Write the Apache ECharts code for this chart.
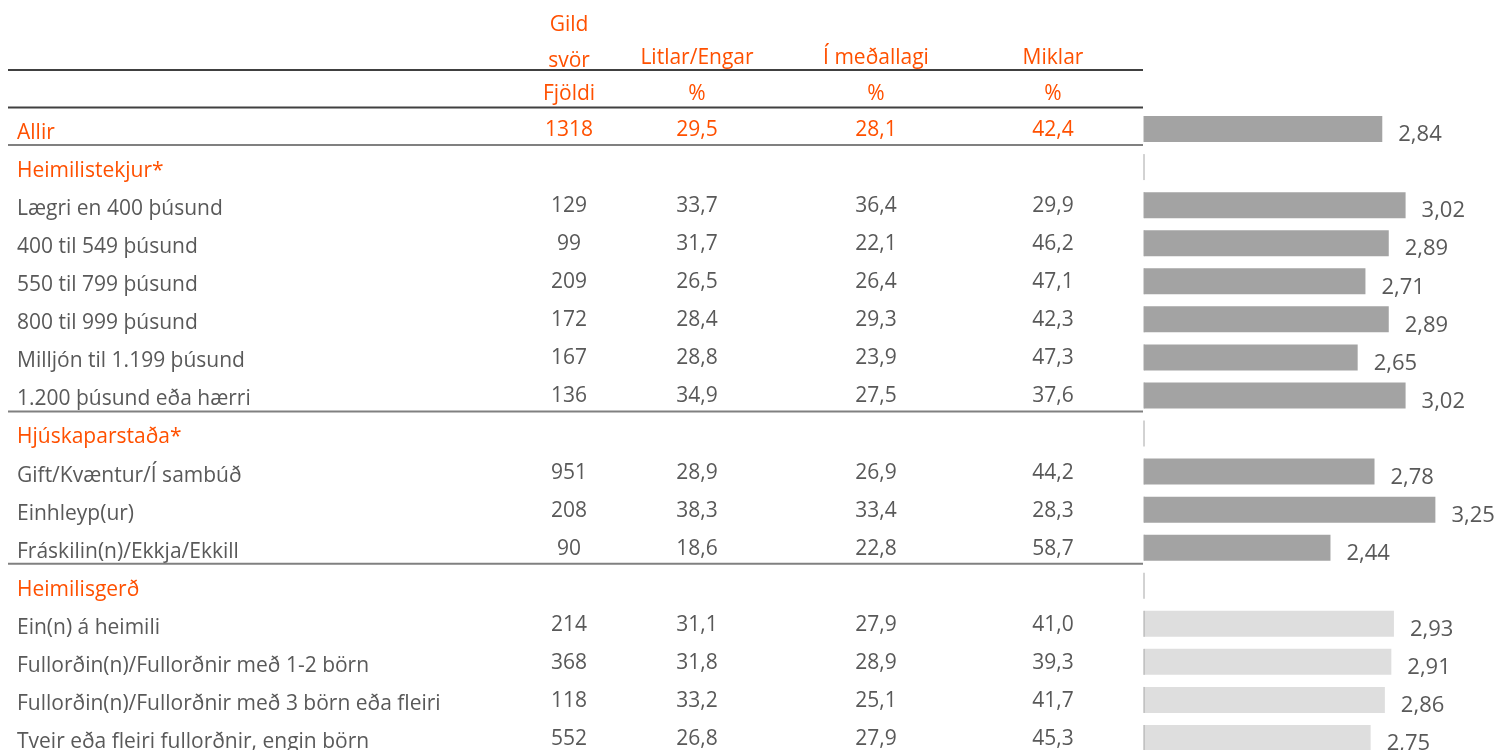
<!DOCTYPE html>
<html>
<head>
<meta charset="utf-8">
<script src="https://cdn.jsdelivr.net/npm/echarts@6/dist/echarts.min.js"></script>
<style>
  html, body { margin: 0; padding: 0; background: #fff; }
  #main { width: 1500px; height: 750px; }
</style>
</head>
<body>
<div id="main"></div>
<script>
// rows of the table (top to bottom)
var rowNames = ['Allir', 'Heimilistekjur*', 'Lægri en 400 þúsund', '400 til 549 þúsund', '550 til 799 þúsund',
    '800 til 999 þúsund', 'Milljón til 1.199 þúsund', '1.200 þúsund eða hærri', 'Hjúskaparstaða*',
    'Gift/Kvæntur/Í sambúð', 'Einhleyp(ur)', 'Fráskilin(n)/Ekkja/Ekkill', 'Heimilisgerð', 'Ein(n) á heimili',
    'Fullorðin(n)/Fullorðnir með 1-2 börn', 'Fullorðin(n)/Fullorðnir með 3 börn eða fleiri',
    'Tveir eða fleiri fullorðnir, engin börn'];
var fjoldi  = [1318, null, 129, 99, 209, 172, 167, 136, null, 951, 208, 90, null, 214, 368, 118, 552];
var litlar  = [29.5, null, 33.7, 31.7, 26.5, 28.4, 28.8, 34.9, null, 28.9, 38.3, 18.6, null, 31.1, 31.8, 33.2, 26.8];
var medal   = [28.1, null, 36.4, 22.1, 26.4, 29.3, 23.9, 27.5, null, 26.9, 33.4, 22.8, null, 27.9, 28.9, 25.1, 27.9];
var miklar  = [42.4, null, 29.9, 46.2, 47.1, 42.3, 47.3, 37.6, null, 44.2, 28.3, 58.7, null, 41.0, 39.3, 41.7, 45.3];
var medaltal = [2.84, null, 3.02, 2.89, 2.71, 2.89, 2.65, 3.02, null, 2.78, 3.25, 2.44, null, 2.93, 2.91, 2.86, 2.75];
// which block each row belongs to
var hopur = ['allir', 'h', 'tekjur', 'tekjur', 'tekjur', 'tekjur', 'tekjur', 'tekjur', 'h',
    'hjusk', 'hjusk', 'hjusk', 'h', 'gerd', 'gerd', 'gerd', 'gerd'];
var dalkar = [fjoldi, litlar, medal, miklar];

var ORANGE = '#FF5000';
var GREY = '#595959';
var FONT = 'Open Sans';

var rowTop = 110, rowH = 38.06;
var axisX = 1144;
var colX = [569, 697, 876, 1053];

function fmt(v, d) {
    if (v == null) return '';
    return v.toFixed(d).replace('.', ',');
}
function isOrange(i) { return hopur[i] === 'allir' || hopur[i] === 'h'; }

var dom = document.getElementById('main');
var myChart = echarts.init(dom);

function hline(y, color) {
    return { type: 'line', shape: { x1: 8, y1: y, x2: axisX - 1, y2: y }, style: { stroke: color, lineWidth: 2 }, z: 10 };
}
function htext(x, y, t) {
    return { type: 'text', x: x, y: y, style: { text: t, fill: ORANGE, font: '21px "' + FONT + '"', align: 'center', verticalAlign: 'middle' } };
}

var tableSeries = dalkar.map(function (col, c) {
    return {
        type: 'scatter', xAxisIndex: 1, yAxisIndex: 1, symbolSize: 0, silent: true,
        itemStyle: { opacity: 1 },
        data: col.map(function (v, i) { return [colX[c], i]; }),
        label: {
            show: true, position: 'inside', fontFamily: FONT, fontSize: 21, offset: [0, 1],
            formatter: function (p) {
                var i = p.dataIndex, v = col[i];
                var s = c === 0 ? (v == null ? '' : String(v)) : fmt(v, 1);
                return isOrange(i) ? '{o|' + s + '}' : '{g|' + s + '}';
            },
            rich: { o: { color: ORANGE, fontFamily: FONT, fontSize: 21 }, g: { color: GREY, fontFamily: FONT, fontSize: 21 } }
        }
    };
});

var option = {
    animation: false,
    grid: [
        { left: axisX, top: rowTop, width: 388.5, height: rowH * rowNames.length, outerBoundsMode: 'none' },
        { left: 0, top: rowTop, width: axisX, height: rowH * rowNames.length, outerBoundsMode: 'none' }
    ],
    xAxis: [
        { type: 'value', min: 1, max: 4, show: false, gridIndex: 0 },
        { type: 'value', min: 0, max: axisX, show: false, gridIndex: 1 }
    ],
    yAxis: [{
        type: 'category', inverse: true, data: rowNames, gridIndex: 0,
        axisLine: { show: false }, axisTick: { show: false },
        axisLabel: {
            interval: 0, align: 'left', margin: axisX - 17, fontFamily: FONT, fontSize: 21,
            formatter: function (v, i) { return isOrange(i) ? '{o|' + v + '}' : '{g|' + v + '}'; },
            rich: { o: { color: ORANGE, fontFamily: FONT, fontSize: 21, padding: [8, 0, 0, 0] },
                    g: { color: GREY, fontFamily: FONT, fontSize: 21, padding: [8, 0, 0, 0] } }
        }
    }, {
        type: 'category', inverse: true, data: rowNames, gridIndex: 1, show: false
    }],
    graphic: [
        htext(colX[0], 25, 'Gild'),
        htext(colX[0], 61, 'svör'),
        htext(colX[1], 58, 'Litlar/Engar'),
        htext(colX[2], 58, 'Í meðallagi'),
        htext(colX[3], 58, 'Miklar'),
        htext(colX[0], 94, 'Fjöldi'),
        htext(colX[1], 94, '%'),
        htext(colX[2], 94, '%'),
        htext(colX[3], 94, '%'),
        hline(70, '#404040'),
        hline(107.5, '#404040'),
        hline(rowTop + rowH * 1 - 3, '#808080'),
        hline(rowTop + rowH * 8 - 3, '#808080'),
        hline(rowTop + rowH * 12 - 3, '#808080')
    ],
    series: [
        {
            type: 'bar', barWidth: 26, xAxisIndex: 0, yAxisIndex: 0,
            data: medaltal.map(function (v, i) {
                return { value: v, itemStyle: { color: hopur[i] === 'gerd' ? '#DEDEDE' : '#A3A3A3' } };
            }),
            label: {
                show: true, position: 'right', distance: 16, offset: [0, 6],
                color: GREY, fontFamily: FONT, fontSize: 22,
                formatter: function (p) { return fmt(p.value, 2); }
            }
        },
        {
            // short axis segment on every row
            type: 'custom', z: 5, xAxisIndex: 0, yAxisIndex: 0,
            data: rowNames.map(function (r, i) { return [1, i]; }),
            encode: { x: 0, y: 1 },
            renderItem: function (params, api) {
                var p = api.coord([api.value(0), api.value(1)]);
                return { type: 'line', shape: { x1: p[0], y1: p[1] - 13, x2: p[0], y2: p[1] + 13 }, style: { stroke: '#A6A6A6', lineWidth: 1 } };
            }
        }
    ].concat(tableSeries)
};

myChart.setOption(option, true);
</script>
</body>
</html>
